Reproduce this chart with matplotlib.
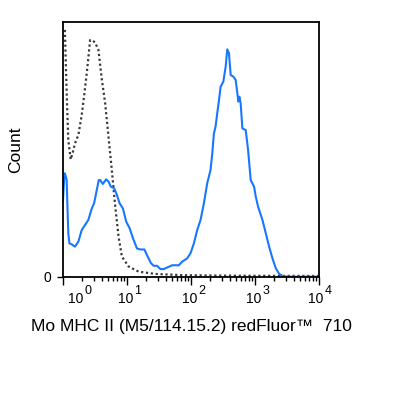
import matplotlib
matplotlib.use("Agg")
import matplotlib.pyplot as plt
from matplotlib.transforms import blended_transform_factory, ScaledTranslation
import numpy as np

plt.rcParams['font.family'] = ['Liberation Sans', 'DejaVu Sans']

# Blue (stained) histogram: intensity, normalized count
blue_x = [1.0, 1.04, 1.07, 1.14, 1.21, 1.26, 1.37, 1.54, 1.74, 1.96, 2.21, 2.49, 2.82, 3.06, 3.37,
          3.62, 3.80, 4.19, 4.73, 5.14, 5.60, 6.31, 6.95, 7.66, 8.63, 9.72, 11.0, 12.4, 14.3,
          16.1, 18.7, 20.5, 23.7, 26.1, 29.4, 33.3, 37.5, 42.3, 50.7, 64.4, 72.6, 87.1, 98.2,
          111, 125, 141, 159, 179, 202, 215, 228, 242, 257, 274, 290, 320, 348, 369, 392, 417,
          458, 499, 530, 550, 570, 597, 635, 716, 780, 857, 968, 1028, 1117, 1306, 1476, 1663,
          1875, 2113, 2388, 2692, 3221, 10000]
blue_y = [30.0, 38.0, 40.7, 38.0, 17.1, 13.2, 12.8, 11.9, 13.9, 18.4, 20.4, 22.4, 26.9, 28.9, 34.1,
          38.0, 38.0, 36.5, 38.3, 37.4, 35.4, 34.8, 32.2, 28.9, 26.9, 21.7, 19.1, 15.2, 11.2,
          10.8, 10.8, 8.6, 5.4, 4.4, 4.4, 3.1, 3.1, 3.7, 4.6, 4.6, 6.0, 7.3, 9.3,
          13.2, 18.4, 22.4, 28.9, 36.7, 42.0, 48.5, 56.3, 59.0, 64.2, 69.4, 74.6, 76.6, 82.5, 89.3, 87.7, 79.2,
          78.6, 77.3, 72.0, 68.8, 70.7, 68.1, 58.3, 57.6, 49.8, 38.0, 35.4, 31.5, 27.6, 22.4, 17.1, 11.9,
          7.3, 3.4, 1.2, 0.4, 0.1, 0.1]

# Gray dotted (control) histogram
ctrl_x = [1.07, 1.11, 1.16, 1.21, 1.32, 1.42, 1.54, 1.74, 1.96, 2.13, 2.35, 2.53, 2.65, 2.92, 3.18,
          3.58, 4.05, 4.56, 5.14, 5.79, 6.55, 7.38, 8.32, 10.6, 15.2, 27.7, 77.3, 470, 10000]
ctrl_y = [96.9, 82.5, 66.8, 53.7, 46.1, 48.8, 52.4, 55.7, 63.5, 70.7, 79.9, 87.7, 92.9, 92.7, 91.9,
          89.0, 77.3, 68.1, 55.0, 42.0, 27.6, 15.8, 8.0, 4.1, 2.1, 1.2, 0.7, 0.5, 0.4]

decades = [1, 10, 100, 1000, 10000]
exponents = ['0', '1', '2', '3', '4']
xlabel = 'Mo MHC II (M5/114.15.2) redFluor\u2122  710'
ylabel = 'Count'

W, H = 415, 398
fig = plt.figure(figsize=(W / 100, H / 100), dpi=100)
ax = fig.add_axes([63 / W, (H - 277) / H, 256 / W, 255 / H])

ax.plot(ctrl_x, ctrl_y, color='#3a3a3a', lw=1.6, linestyle=(0, (1, 1.2)))
ax.plot(blue_x, blue_y, color='#1877ff', lw=1.5)

ax.set_xscale('log')
ax.set_xlim(1, 10000)
ax.set_ylim(0, 100)

for s in ax.spines.values():
    s.set_linewidth(1.3)
    s.set_color('black')

ax.set_xticks(decades)
ax.set_xticklabels([])
ax.tick_params(axis='x', which='major', length=6, width=1.0, direction='out')
ax.tick_params(axis='x', which='minor', length=3, width=1.0, direction='out')
ax.set_yticks([0])
ax.set_yticklabels(['0'], fontsize=10)
ax.tick_params(axis='y', length=4.3, width=1.0, pad=4.3)
ax.yaxis.set_minor_locator(matplotlib.ticker.NullLocator())

trans = blended_transform_factory(ax.transData, ax.transAxes)
dx_list = [20, 6, 6, 6, 4]
for dec, ex, dx in zip(decades, exponents, dx_list):
    t1 = trans + ScaledTranslation(dx / 100, -26 / 100, fig.dpi_scale_trans)
    ax.text(dec, 0, '10', transform=t1, ha='right', va='baseline', fontsize=10)
    t2 = trans + ScaledTranslation((dx + 1.5) / 100, -16.5 / 100, fig.dpi_scale_trans)
    ax.text(dec, 0, ex, transform=t2, ha='left', va='baseline', fontsize=9)

fig.text(191 / W, 1 - 327 / H, xlabel, ha='center', va='center', fontsize=12.5)
fig.text(16 / W, 1 - 150 / H, ylabel, ha='center', va='center', rotation=90, fontsize=12.5)

fig.savefig('out.png', dpi=100)
